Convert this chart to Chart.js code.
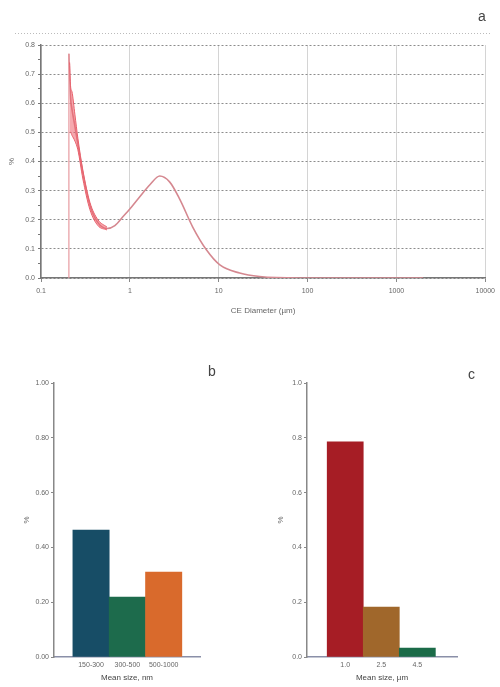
<!DOCTYPE html>
<html>
<head>
<meta charset="utf-8">
<script src="https://cdn.jsdelivr.net/npm/chart.js@4.4.1/dist/chart.umd.min.js"></script>
<style>
  body { margin: 0; background: #fff; font-family: "Liberation Sans", Arial, sans-serif; }
  #wrap { position: relative; width: 500px; height: 687px; }
  canvas { position: absolute; }
  .tag { position: absolute; color: #444; font-size: 14px; }
</style>
</head>
<body>
<div id="wrap">
  <canvas id="plotA" width="500" height="320" style="left:0;top:0"></canvas>
  <canvas id="plotB" width="250" height="327" style="left:0;top:360px"></canvas>
  <canvas id="plotC" width="250" height="327" style="left:250px;top:360px"></canvas>
  <div class="tag" style="left:478px;top:8px">a</div>
  <div class="tag" style="left:208px;top:363px">b</div>
  <div class="tag" style="left:468px;top:366px">c</div>
</div>
<script>
// size distribution (CE diameter, µm) vs frequency (%)
const sizeUm = [0.206, 0.215, 0.223, 0.241, 0.26, 0.296, 0.355, 0.437, 0.552, 0.678, 0.834, 1.05, 1.3, 1.68, 2.17, 2.8, 3.65, 5.1, 7.3, 10.3, 17.2, 28.8, 81, 300, 2000];
const freqPct = [0.77, 0.62, 0.58, 0.52, 0.46, 0.36, 0.25, 0.19, 0.17, 0.18, 0.21, 0.245, 0.28, 0.32, 0.35, 0.33, 0.27, 0.175, 0.096, 0.045, 0.017, 0.005, 0, 0, 0];

// spread of the repeated runs around the fine peak
const bandSize = [0.21, 0.215, 0.223, 0.241, 0.26, 0.296, 0.355, 0.437, 0.552];
const bandHigh = [0.74, 0.66, 0.64, 0.56, 0.48, 0.37, 0.26, 0.2, 0.175];
const bandLow = [0.50, 0.50, 0.49, 0.47, 0.44, 0.34, 0.235, 0.18, 0.165];

const startSize = 0.206;
const decadeTicks = [0.1, 1, 10, 100, 1000, 10000];

// fractions per size class
const nmClasses = ['150-300', '300-500', '500-1000'];
const nmFraction = [0.463, 0.219, 0.31];
const nmColors = ['#174d66', '#1d6b4c', '#d96a2c'];

const umClasses = ['1.0', '2.5', '4.5'];
const umFraction = [0.785, 0.182, 0.033];
const umColors = ['#a61d25', '#a0672b', '#1b6b48'];

const tickFont = { family: 'Liberation Sans', size: 7 };
const titleFont = { family: 'Liberation Sans', size: 8 };
const grey = '#666';

const pts = (xs, ys) => xs.map((x, i) => ({ x: x, y: ys[i] }));

const topRule = {
  id: 'topRule',
  beforeDraw(chart) {
    const c = chart.ctx;
    c.save();
    c.strokeStyle = '#bbb';
    c.setLineDash([1, 2]);
    c.beginPath();
    c.moveTo(15, 33.5);
    c.lineTo(490, 33.5);
    c.stroke();
    c.restore();
  }
};

new Chart(document.getElementById('plotA'), {
  type: 'line',
  data: {
    datasets: [
      {
        data: pts(bandSize, bandHigh),
        borderColor: '#e8616c', borderWidth: 1, pointRadius: 0,
        backgroundColor: 'rgba(238,96,108,0.55)', fill: '+1',
        cubicInterpolationMode: 'monotone'
      },
      {
        data: pts(bandSize, bandLow),
        borderColor: '#e8616c', borderWidth: 1, pointRadius: 0, fill: false,
        cubicInterpolationMode: 'monotone'
      },
      {
        data: [{ x: startSize, y: 0 }, { x: startSize, y: freqPct[0] }],
        borderColor: '#e79aa0', borderWidth: 1.2, pointRadius: 0, fill: false
      },
      {
        data: pts(sizeUm, freqPct),
        borderColor: '#d58890', borderWidth: 1.6, pointRadius: 0, fill: false,
        cubicInterpolationMode: 'monotone'
      }
    ]
  },
  options: {
    responsive: false,
    animation: false,
    layout: { padding: { top: 45, right: 13, left: 7, bottom: 0 } },
    plugins: { legend: { display: false }, tooltip: { enabled: false } },
    scales: {
      x: {
        type: 'logarithmic', min: 0.1, max: 10000,
        afterBuildTicks: s => { s.ticks = decadeTicks.map(v => ({ value: v })); },
        afterFit: s => { s.height = 42; },
        ticks: { font: tickFont, color: grey, padding: 5, callback: v => String(v) },
        grid: { color: '#d4d4d4', tickColor: '#888', tickLength: 4 },
        border: { color: '#777', width: 1.5 },
        title: { display: true, text: 'CE Diameter (µm)', font: titleFont, color: grey, padding: { top: 2, bottom: 4 } }
      },
      y: {
        min: 0, max: 0.8,
        afterFit: s => { s.width = 34; },
        ticks: { stepSize: 0.05, font: tickFont, color: grey, padding: 3,
          callback: v => (Math.round(v * 100) % 10 === 0 ? v.toFixed(1) : '') },
        grid: {
          color: ctx => (Math.round(ctx.tick.value * 100) % 10 === 0 ? '#8c8c8c' : 'rgba(0,0,0,0)'),
          tickColor: '#777', tickLength: 3
        },
        // dash here applies to the horizontal grid lines
        border: { color: '#777', width: 1.5, dash: [2, 2] },
        title: { display: true, text: '%', font: titleFont, color: grey, padding: 0 }
      }
    }
  },
  plugins: [topRule]
});

function barPanel(id, classes, values, colors, fmt, padLeft, yWidth, padRight, xMin, xMax, xTitle) {
  new Chart(document.getElementById(id), {
    type: 'bar',
    data: {
      datasets: [{
        data: values.map((v, i) => ({ x: i, y: v })),
        backgroundColor: colors,
        barPercentage: 1, categoryPercentage: 1
      }]
    },
    options: {
      responsive: false,
      animation: false,
      layout: { padding: { top: 23, right: padRight, left: padLeft, bottom: 0 } },
      plugins: { legend: { display: false }, tooltip: { enabled: false } },
      scales: {
        x: {
          type: 'linear', min: xMin, max: xMax, offset: false,
          afterBuildTicks: s => { s.ticks = classes.map((c, i) => ({ value: i })); },
          afterFit: s => { s.height = 30; },
          ticks: { font: tickFont, color: grey, padding: 4, maxRotation: 0, callback: v => classes[v] },
          grid: { display: false, drawTicks: false },
          border: { color: '#8a8fa8', width: 1.5 },
          title: { display: true, text: xTitle, font: titleFont, color: '#444', padding: { top: 1 } }
        },
        y: {
          min: 0, max: 1,
          afterFit: s => { s.width = yWidth; },
          ticks: { stepSize: 0.2, font: tickFont, color: grey, padding: 2, callback: v => v.toFixed(fmt) },
          grid: { drawOnChartArea: false, tickColor: '#888', tickLength: 3 },
          border: { color: '#888', width: 1.5 },
          title: { display: true, text: '%', font: titleFont, color: grey, padding: 0 }
        }
      }
    }
  });
}

barPanel('plotB', nmClasses, nmFraction, nmColors, 2, 22, 32, 50, -1.02, 3.0, 'Mean size, nm');
barPanel('plotC', umClasses, umFraction, umColors, 1, 26, 31, 43, -1.06, 3.1, 'Mean size, µm');
</script>
</body>
</html>
